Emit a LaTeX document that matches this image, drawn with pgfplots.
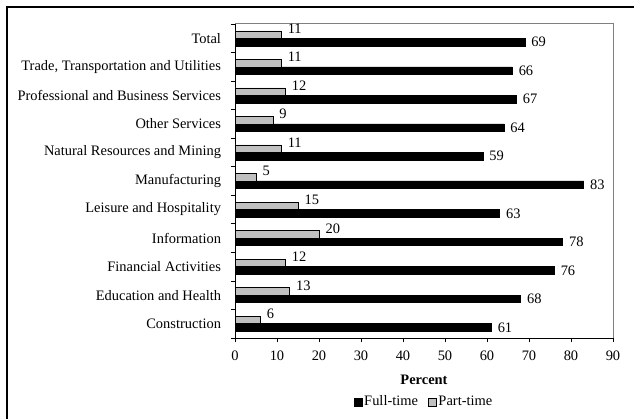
\documentclass[border=0pt]{standalone}
\usepackage{fontspec}
\setmainfont{Liberation Serif}
\usepackage{pgfplots}
\usepackage{pgfplotstable}
\pgfplotsset{compat=1.18}
\definecolor{partgray}{RGB}{192,192,192}
\definecolor{framegray}{RGB}{128,128,128}

\pgfplotstableread{
y full part
0 61 6
1 68 13
2 76 12
3 78 20
4 63 15
5 83 5
6 59 11
7 64 9
8 67 12
9 66 11
10 69 11
}\datatable

\begin{document}
\fontsize{14.5}{17}\selectfont
\begin{tikzpicture}
\useasboundingbox (0,0) rectangle (634bp,419bp);
\draw[line width=1.2bp] (7bp,-20bp) -- (7bp,412bp) -- (660bp,412bp);
\begin{axis}[
  at={(235bp,81bp)}, anchor=south west,
  scale only axis, width=378bp, height=314bp,
  xbar, bar width=7.5bp,
  xmin=0, xmax=90, ymin=-0.5, ymax=10.5,
  axis x line*=bottom, axis y line*=left,
  axis line style={black, line width=0.8bp, -},
  xtick={0,10,...,90},
  ytick={0,...,10},
  yticklabels={Construction,Education and Health,Financial Activities,Information,Leisure and Hospitality,Manufacturing,Natural Resources and Mining,Other Services,{Professional and Business Services},{Trade, Transportation and Utilities},Total},
  ytick style={draw=none},
  x tick style={black, line width=0.8bp},
  tick align=outside, major tick length=4bp,
  /pgf/number format/assume math mode=true,
  xticklabel style={yshift=-4bp},
  yticklabel style={xshift=-5bp},
  xlabel={\textbf{Percent}},
  xlabel style={at={(axis description cs:0.5,0)}, anchor=center, yshift=-42bp},
  legend style={at={(axis description cs:0.5,0)}, anchor=center, yshift=-64bp, draw=none, legend columns=2, /tikz/every even column/.append style={column sep=8bp}},
  legend image code/.code={\draw[#1] (0bp,-4bp) rectangle (8bp,4bp);},
  nodes near coords,
  every node near coord/.append style={anchor=west, xshift=1.5bp, black},
  clip=false,
]
\addplot[fill=black, draw=black, line width=0.5bp, bar shift=-3.75bp] table[x=full, y=y] {\datatable};
\addlegendentry{Full-time}
\addplot[fill=partgray, draw=black, line width=0.5bp, bar shift=3.75bp, every node near coord/.append style={yshift=6bp}] table[x=part, y=y] {\datatable};
\addlegendentry{Part-time}
\draw[framegray, line width=1bp] (rel axis cs:0,1) -- (rel axis cs:1,1) -- (rel axis cs:1,0);
\pgfplotsinvokeforeach{-0.5,0.5,...,10.5}{
  \draw[black, line width=0.8bp] (axis cs:0,#1) ++(-4bp,0bp) -- ++(5bp,0bp);
}
\end{axis}
\end{tikzpicture}
\end{document}
